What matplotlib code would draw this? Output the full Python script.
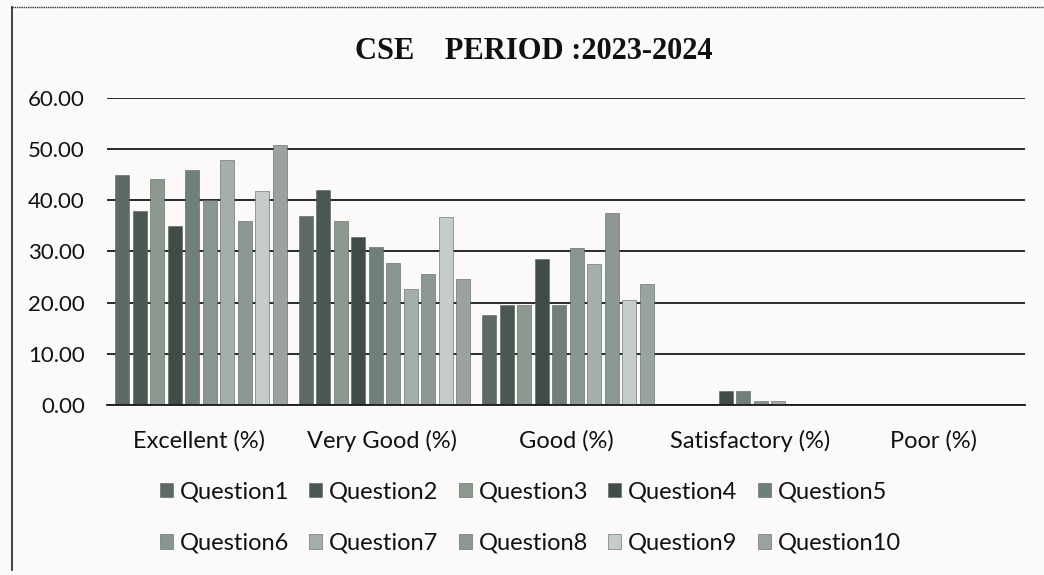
import matplotlib
matplotlib.use("Agg")
import matplotlib.pyplot as plt
import numpy as np

# Feedback percentages per rating category, one list per question
categories = ["Excellent (%)", "Very Good (%)", "Good (%)", "Satisfactory (%)", "Poor (%)"]
questions = ["Question1", "Question2", "Question3", "Question4", "Question5",
             "Question6", "Question7", "Question8", "Question9", "Question10"]
q1 = [45.0, 36.9, 17.6, 0.0, 0.0]
q2 = [38.0, 42.0, 19.6, 0.0, 0.0]
q3 = [44.1, 36.0, 19.6, 0.0, 0.0]
q4 = [35.0, 32.9, 28.6, 2.8, 0.0]
q5 = [46.0, 30.8, 19.6, 2.8, 0.0]
q6 = [40.1, 27.7, 30.7, 0.8, 0.0]
q7 = [47.8, 22.7, 27.6, 0.8, 0.0]
q8 = [35.9, 25.6, 37.6, 0.0, 0.0]
q9 = [41.8, 36.7, 20.6, 0.0, 0.0]
q10 = [50.8, 24.6, 23.6, 0.0, 0.0]
series = [q1, q2, q3, q4, q5, q6, q7, q8, q9, q10]
yticks = [0, 10, 20, 30, 40, 50, 60]

colors = ["#5d6b64", "#4a5851", "#8b9991", "#3f4d46", "#6f8078",
          "#87978f", "#a4aeab", "#8d9793", "#c5cdca", "#9ba39f"]

bg = "#fcf9f9"
fig = plt.figure(figsize=(10.44, 5.75), dpi=100, facecolor=bg)
ax = fig.add_axes([0.1025, 0.2957, 0.8795, 0.5339])
ax.set_facecolor(bg)

x = np.arange(len(categories))
slot = 0.0953
width = 0.0763
handles = []
for i, (vals, name, c) in enumerate(zip(series, questions, colors)):
    offs = (i - (len(series) - 1) / 2) * slot + 0.011
    b = ax.bar(x + offs, vals, width=width, color=c, label=name,
               edgecolor="#55605b", linewidth=0.4, zorder=3)
    handles.append(b)

ax.set_xlim(-0.5, len(categories) - 0.5)
ax.set_ylim(0, 60)
ax.set_yticks(yticks)
ax.set_yticklabels([f"{v:.2f}" for v in yticks])
ax.yaxis.grid(True, color="#1a1a1a", linewidth=1.3, zorder=1)
ax.set_axisbelow(True)
for s in ["top", "right", "left"]:
    ax.spines[s].set_visible(False)
ax.spines["bottom"].set_color("#1a1a1a")
ax.spines["bottom"].set_linewidth(1.3)
ax.spines["bottom"].set_zorder(4)

ax.set_xticks(x)
ax.set_xticklabels(categories)
ax.tick_params(axis="x", length=0, pad=18, labelsize=17)
ax.tick_params(axis="y", length=0, pad=16, labelsize=16)
for lab in ax.get_xticklabels() + ax.get_yticklabels():
    lab.set_fontfamily("Lato")
    lab.set_color("#111111")

fig.text(0.511, 0.91, "CSE    PERIOD :2023-2024", ha="center", va="center",
         fontsize=22, fontweight="bold", family="Liberation Serif", color="#111111")

# legend filled row by row (matplotlib fills columns first)
ncol = 5
nrow = 2
order = [r * ncol + c for c in range(ncol) for r in range(nrow)]
leg = fig.legend([handles[k] for k in order], [questions[k] for k in order],
                 loc="upper center", bbox_to_anchor=(0.508, 0.2), ncol=ncol,
                 frameon=False, handlelength=0.55, handleheight=0.55,
                 handletextpad=0.3, columnspacing=0.85, labelspacing=1.3,
                 prop={"family": "Lato", "size": 17})
for t in leg.get_texts():
    t.set_color("#111111")

# chart frame: top and left edges
fig.add_artist(plt.Line2D([0.0115, 1.0], [0.988, 0.988], transform=fig.transFigure,
                          color="#333333", linewidth=1.0, linestyle=(0, (1, 0.6))))
fig.add_artist(plt.Line2D([0.0115, 0.0115], [0.008, 0.988], transform=fig.transFigure,
                          color="#222222", linewidth=1.2))

fig.savefig("out.png", dpi=100, facecolor=bg)
